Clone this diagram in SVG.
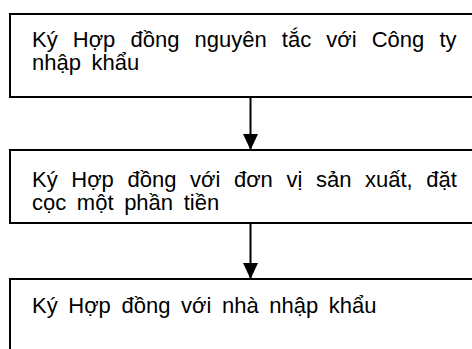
<svg xmlns="http://www.w3.org/2000/svg" width="472" height="349" viewBox="0 0 472 349">
<defs>
<style>
.box{fill:#fff;stroke:#000;stroke-width:2}
.t{font-family:"Liberation Sans",Arial,sans-serif;font-size:22px;fill:#000;word-spacing:4.5px}
.ln{stroke:#000;stroke-width:2;fill:none}
</style>
<marker id="ah" markerWidth="16" markerHeight="15" refX="16" refY="7.5" orient="auto" markerUnits="userSpaceOnUse" viewBox="0 0 16 15">
<path d="M0,0 L16,7.5 L0,15 Z" fill="#000"/>
</marker>
</defs>
<rect width="472" height="349" fill="#fff"/>
<g id="node1">
<rect class="box" x="10" y="14" width="480" height="83"/>
<text class="t" x="32" y="47" style="word-spacing:9px">Ký Hợp đồng nguyên tắc với Công ty</text>
<text class="t" x="32" y="70">nhập khẩu</text>
</g>
<g id="node2">
<rect class="box" x="10" y="150" width="480" height="73"/>
<text class="t" x="32" y="187" style="word-spacing:7.5px">Ký Hợp đồng với đơn vị sản xuất, đặt</text>
<text class="t" x="32" y="210">cọc một phần tiền</text>
</g>
<g id="node3">
<rect class="box" x="10" y="279" width="480" height="90"/>
<text class="t" x="32" y="313">Ký Hợp đồng với nhà nhập khẩu</text>
</g>
<g id="connectors">
<line class="ln" x1="250.5" y1="97" x2="250.5" y2="150" marker-end="url(#ah)"/>
<line class="ln" x1="250.5" y1="223" x2="250.5" y2="279" marker-end="url(#ah)"/>
</g>
</svg>
